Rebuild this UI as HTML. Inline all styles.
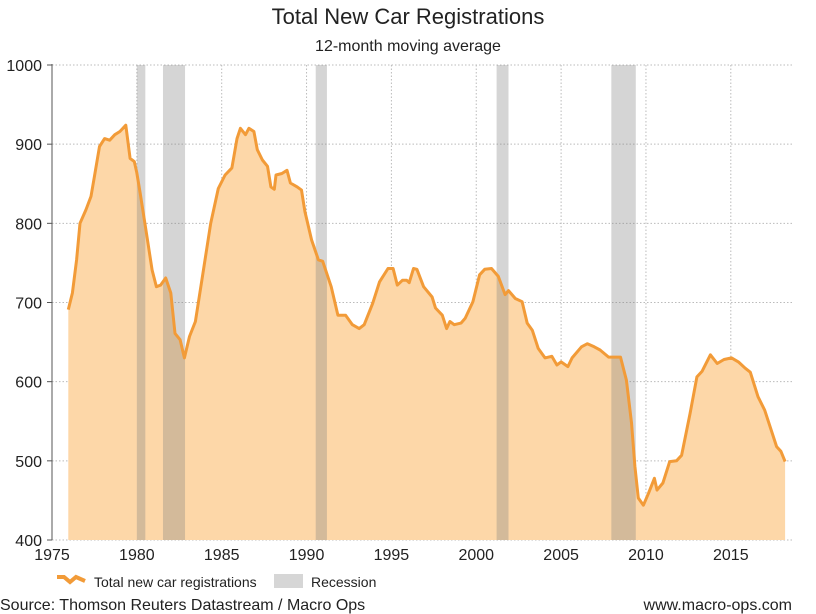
<!DOCTYPE html>
<html><head><meta charset="utf-8"><style>
body{margin:0;background:#fff;}
svg{display:block;font-family:"Liberation Sans",sans-serif;}
</style></head><body>
<svg id="chart" width="816" height="614">
<text x="408" y="24" text-anchor="middle" font-size="22" fill="#222">Total New Car Registrations</text>
<text x="408" y="51" text-anchor="middle" font-size="16" fill="#222">12-month moving average</text>
<g id="grid"></g><g id="area"></g><g id="bands"></g><g id="line"></g><g id="axes"></g>
<g>
<path d="M57,577 L64,577 L70,582 L76,577 L85,581" stroke="#f29b38" stroke-width="4" fill="none"/>
<text x="94" y="587" font-size="14" fill="#222">Total new car registrations</text>
<rect x="274" y="574" width="29" height="14" fill="#d6d6d6"/>
<text x="311" y="587" font-size="14" fill="#222">Recession</text>
</g>
<text x="0" y="610" font-size="16" fill="#222">Source: Thomson Reuters Datastream / Macro Ops</text>
<text x="792" y="610" text-anchor="end" font-size="16" fill="#222">www.macro-ops.com</text>
</svg>
<script>
const years=[1975.96,1976.2,1976.45,1976.65,1977.0,1977.3,1977.5,1977.8,1978.1,1978.4,1978.7,1979.0,1979.35,1979.6,1979.85,1980.0,1980.2,1980.6,1980.9,1981.15,1981.4,1981.7,1982.0,1982.25,1982.55,1982.8,1983.1,1983.45,1983.85,1984.35,1984.8,1985.2,1985.6,1985.9,1986.1,1986.4,1986.6,1986.9,1987.1,1987.4,1987.7,1987.9,1988.1,1988.2,1988.55,1988.85,1989.05,1989.45,1989.7,1989.9,1990.3,1990.7,1990.95,1991.45,1991.85,1992.3,1992.7,1993.1,1993.4,1993.9,1994.3,1994.8,1995.1,1995.35,1995.65,1995.9,1996.05,1996.3,1996.5,1996.9,1997.4,1997.6,1998.0,1998.25,1998.45,1998.7,1999.1,1999.35,1999.8,2000.2,2000.5,2000.9,2001.3,2001.7,2001.9,2002.3,2002.7,2003.0,2003.3,2003.65,2004.05,2004.45,2004.75,2005.0,2005.4,2005.65,2006.2,2006.55,2006.95,2007.3,2007.8,2008.5,2008.85,2009.15,2009.35,2009.55,2009.85,2010.15,2010.5,2010.65,2011.0,2011.4,2011.8,2012.1,2012.6,2013.0,2013.3,2013.8,2014.2,2014.6,2015.05,2015.45,2015.85,2016.15,2016.6,2017.0,2017.7,2017.95,2018.2];
const values=[691,712,754,800,817,834,859,897,907,905,912,916,924,882,878,864,838,783,741,720,722,731,712,661,653,630,657,676,731,800,844,861,870,907,920,912,920,916,893,880,872,846,843,861,863,867,851,846,842,815,779,754,752,720,684,684,672,667,672,699,726,743,743,722,728,728,725,743,742,720,707,693,684,667,676,672,674,680,701,735,742,743,733,710,715,705,701,674,665,642,630,632,621,625,619,630,644,648,644,640,631,631,602,548,493,453,444,459,478,463,472,499,500,507,560,606,613,634,623,628,630,625,617,612,581,564,518,512,499];
const recStart=[1980.0,1981.54,1990.54,2001.2,2007.96];
const recEnd=[1980.5,1982.84,1991.2,2001.9,2009.4];
const xTicks=[1975,1980,1985,1990,1995,2000,2005,2010,2015];
const yTicks=[400,500,600,700,800,900,1000];
const NS="http://www.w3.org/2000/svg";
const X0=52,X1=792,Y0=540,Y1=65;
const x=y=>X0+(y-1975)*16.97;
const yv=v=>Y0-(v-400)*(Y0-Y1)/600;
function mk(tag,attrs,parent){const e=document.createElementNS(NS,tag);for(const k in attrs)e.setAttribute(k,attrs[k]);document.getElementById(parent).appendChild(e);return e;}
yTicks.forEach(t=>{
 const g=mk('line',{x1:X0,x2:X1,y1:yv(t),y2:yv(t),stroke:'#bbb','stroke-dasharray':'1.5,2','stroke-width':1},'grid');
 
 
 const tk=mk('line',{x1:X0-5,x2:X0,y1:yv(t),y2:yv(t),stroke:'#555','stroke-width':1},'axes');
 
 
 const lb=mk('text',{x:X0-10,y:yv(t)+6,'text-anchor':'end','font-size':16,fill:'#222'},'axes');
 lb.textContent=t;
 
 
});
xTicks.forEach(t=>{
 if(t>1975){const g=mk('line',{x1:x(t),x2:x(t),y1:Y1,y2:Y0,stroke:'#bbb','stroke-dasharray':'1.5,2','stroke-width':1},'grid');
 
 }
 const lb=mk('text',{x:x(t),y:Y0+20,'text-anchor':'middle','font-size':16,fill:'#222'},'axes');
 lb.textContent=t;
 
 
});
const ax=mk('line',{x1:X0,x2:X0,y1:Y1-1,y2:Y0,stroke:'#555','stroke-width':1},'axes');


let pts=years.map((yr,i)=>x(yr).toFixed(1)+','+yv(values[i]).toFixed(1));
const area=mk('path',{d:'M'+x(years[0])+','+Y0+' L'+pts.join(' L')+' L'+x(years[years.length-1])+','+Y0+' Z',fill:'#fdd7a8'},'area');


recStart.forEach((s,i)=>{
 const r=mk('rect',{x:x(s),y:Y1,width:x(recEnd[i])-x(s),height:Y0-Y1,fill:'rgba(128,128,128,0.33)'},'bands');
 
 
});
const ln=mk('path',{d:'M'+pts.join(' L'),fill:'none',stroke:'#f29b38','stroke-width':3,'stroke-linejoin':'round'},'line');


</script>
</body></html>
